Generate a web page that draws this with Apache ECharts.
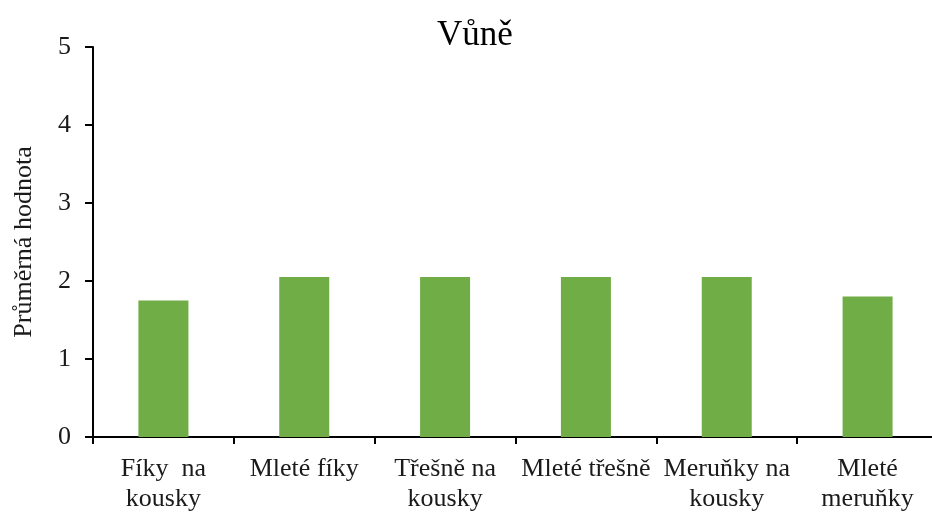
<!DOCTYPE html>
<html>
<head>
<meta charset="utf-8">
<script src="https://cdn.jsdelivr.net/npm/echarts@6/dist/echarts.min.js"></script>
<style>
  html, body { margin: 0; padding: 0; background: #fff; }
  #chart { width: 932px; height: 514px; }
</style>
</head>
<body>
<div id="chart"></div>
<script>
const categories = ['Fíky  na\nkousky', 'Mleté fíky', 'Třešně na\nkousky', 'Mleté třešně', 'Meruňky na\nkousky', 'Mleté\nmeruňky'];
const values = [1.75, 2.05, 2.05, 2.05, 2.05, 1.8];
const yTicks = [0, 1, 2, 3, 4, 5];

const font = 'Liberation Serif, Times New Roman, serif';

var myChart = echarts.init(document.getElementById('chart'));
var option = {
  backgroundColor: '#fff',
  animation: false,
  title: {
    text: 'Vůně',
    left: 432,
    top: 13,
    textStyle: { fontFamily: font, fontSize: 35, fontWeight: 'normal', color: '#000' }
  },
  grid: { left: 93, top: 47, width: 845, bottom: 77, outerBoundsMode: 'none', containLabel: false },
  xAxis: {
    type: 'category',
    data: categories,
    axisLine: { lineStyle: { color: '#000', width: 2 } },
    axisTick: { show: true, length: 7, lineStyle: { color: '#000', width: 2 } },
    axisLabel: {
      interval: 0,
      margin: 17,
      fontFamily: font,
      fontSize: 26,
      lineHeight: 30,
      color: '#1a1a1a'
    }
  },
  yAxis: {
    type: 'value',
    min: yTicks[0],
    max: yTicks[yTicks.length - 1],
    interval: 1,
    name: 'Průměrná hodnota',
    nameLocation: 'middle',
    nameGap: 56,
    nameTextStyle: { fontFamily: font, fontSize: 26, color: '#1a1a1a' },
    axisLine: { show: true, lineStyle: { color: '#000', width: 2 } },
    axisTick: { show: true, length: 8, lineStyle: { color: '#000', width: 2 } },
    splitLine: { show: false },
    axisLabel: { margin: 22, fontFamily: font, fontSize: 26, color: '#1a1a1a' }
  },
  series: [
    {
      type: 'bar',
      data: values,
      barWidth: 50,
      itemStyle: { color: '#70AD47' }
    }
  ]
};
option && myChart.setOption(option);
</script>
</body>
</html>
